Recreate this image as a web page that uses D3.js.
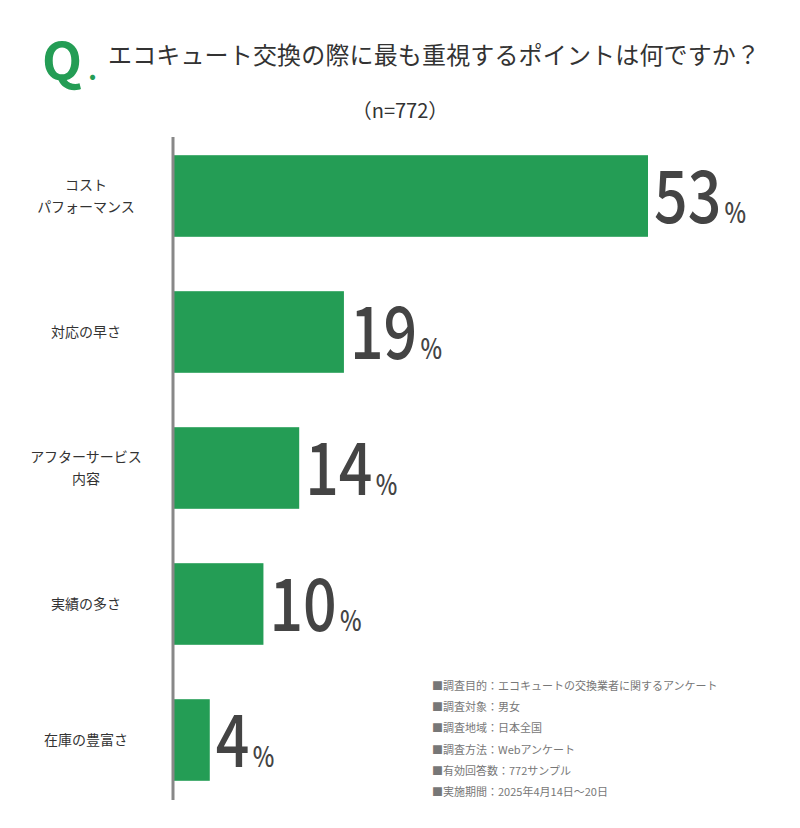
<!DOCTYPE html><html><head><meta charset="utf-8"><script src="https://cdn.jsdelivr.net/npm/d3@7"></script>
<style>body{margin:0;background:#fff}text{font-family:"Noto Sans CJK JP","Noto Sans",sans-serif}</style></head><body>
<svg id="c" width="800" height="828"></svg>
<script>
const categories=[["コスト","パフォーマンス"],["対応の早さ"],["アフターサービス","内容"],["実績の多さ"],["在庫の豊富さ"]];
const values=[53,19,14,10,4];
const notes=["■調査目的：エコキュートの交換業者に関するアンケート","■調査対象：男女","■調査地域：日本全国","■調査方法：Webアンケート","■有効回答数：772サンプル","■実施期間：2025年4月14日〜20日"];
const svg=d3.select("#c");
const green="#249d55";
svg.append("text").attr("x",42).attr("y",80).attr("font-family","Roboto").attr("font-weight",700).attr("font-size",52).attr("fill",green).text("Q");
svg.append("text").attr("x",88).attr("y",80).attr("font-family","Roboto").attr("font-weight",700).attr("font-size",28).attr("fill",green).text(".");
svg.append("text").attr("x",108).attr("y",64).attr("font-size",24).attr("textLength",652).attr("fill","#333").text("エコキュート交換の際に最も重視するポイントは何ですか？");
svg.append("text").attr("x",400).attr("y",118).attr("text-anchor","middle").attr("font-size",20).attr("fill","#333").text("（n=772）");
const x=d3.scaleLinear().domain([0,53]).range([174,648]);
const y=d3.scaleBand().domain(d3.range(5)).range([128,808]).paddingInner(0.4).paddingOuter(0.2);
svg.selectAll("rect.b").data(values).join("rect").attr("x",x(0)).attr("y",(d,i)=>y(i)).attr("width",d=>x(d)-x(0)).attr("height",y.bandwidth()).attr("fill",green);
svg.append("line").attr("x1",173).attr("x2",173).attr("y1",137).attr("y2",800).attr("stroke","#888").attr("stroke-width",3);
categories.forEach((c,i)=>{const cy=y(i)+y.bandwidth()/2;const t=svg.append("text").attr("x",86).attr("text-anchor","middle").attr("font-size",14).attr("fill","#333");
c.forEach((l,j)=>t.append("tspan").attr("x",86).attr("y",cy+5+(j-(c.length-1)/2)*22).text(l));});
values.forEach((v,i)=>{const cy=y(i)+y.bandwidth()/2;const g=svg.append("g").attr("transform",`translate(${x(v)+6},${cy+27}) scale(0.82,1)`);
const t=g.append("text").attr("font-family","Roboto").attr("font-weight",500).attr("font-size",72).attr("fill","#444");
t.append("tspan").text(v);t.append("tspan").attr("font-size",28).attr("dx",4).text("%");});
notes.forEach((n,i)=>svg.append("text").attr("x",432).attr("y",690+i*21.2).attr("font-size",11).attr("fill","#777").text(n));
</script></body></html>
